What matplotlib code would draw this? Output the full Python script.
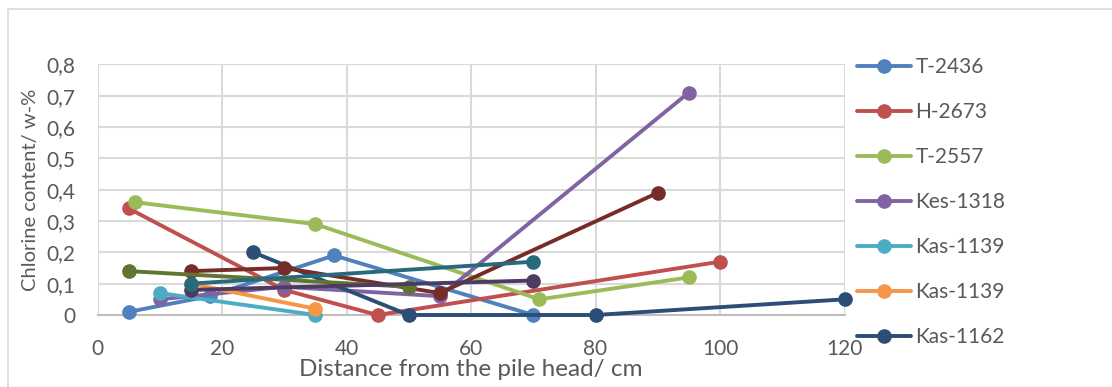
import matplotlib
matplotlib.use("Agg")
import matplotlib.pyplot as plt
from matplotlib.patches import Rectangle
from matplotlib.ticker import FuncFormatter, MultipleLocator

plt.rcParams['font.family'] = ['Lato', 'DejaVu Sans']

# Chlorine content profiles along each pile (distance in cm, content in w-%)
names = ["T-2436", "H-2673", "T-2557", "Kes-1318", "Kas-1139", "Kas-1139",
         "Kas-1162", "Kas-1170", "Kes-1325", "Kas-1148", "Kes-1330"]
distances = [
    [5, 18, 38, 70],
    [5, 30, 45, 100],
    [6, 35, 71, 95],
    [10, 30, 55, 95],
    [10, 35],
    [15, 35],
    [25, 50, 80, 120],
    [15, 30, 55, 90],
    [5, 50],
    [15, 70],
    [15, 70],
]
chlorine = [
    [0.01, 0.06, 0.19, 0.0],
    [0.34, 0.08, 0.0, 0.17],
    [0.36, 0.29, 0.05, 0.12],
    [0.05, 0.09, 0.06, 0.71],
    [0.07, 0.0],
    [0.10, 0.02],
    [0.20, 0.0, 0.0, 0.05],
    [0.14, 0.15, 0.07, 0.39],
    [0.14, 0.09],
    [0.08, 0.11],
    [0.10, 0.17],
]
colors = ["#4F81BD", "#C0504D", "#9BBB59", "#8064A2", "#4BACC6", "#F79646",
          "#2C4D75", "#772C2A", "#5F7530", "#4D3B62", "#276A7C"]

# only the first seven entries fit in the legend column
legend_count = 7

text_color = "#595959"
grid_color = "#D9D9D9"

fig = plt.figure(figsize=(11.12, 3.87), dpi=100)
ax = fig.add_axes([97.5 / 1112, 1 - 315 / 387, (844.5 - 97.5) / 1112, (315 - 64.3) / 387])

lines = []
for x, y, c, n in zip(distances, chlorine, colors, names):
    ln, = ax.plot(x, y, color=c, lw=2.8, marker="o", markersize=9.5,
                  markeredgecolor=c, markerfacecolor=c, label=n,
                  solid_capstyle="round", clip_on=False, zorder=3)
    lines.append(ln)

ax.set_xlim(0, 120)
ax.set_ylim(0, 0.8)
ax.xaxis.set_major_locator(MultipleLocator(20))
ax.yaxis.set_major_locator(MultipleLocator(0.1))
ax.yaxis.set_major_formatter(FuncFormatter(
    lambda v, p: "0" if abs(v) < 1e-9 else f"{v:.1f}".replace(".", ",")))

ax.grid(True, color=grid_color, lw=1.5, zorder=0)
ax.set_axisbelow(True)
for side in ["top", "right", "left"]:
    ax.spines[side].set_visible(False)
ax.spines["bottom"].set_color("#BFBFBF")
ax.spines["bottom"].set_linewidth(1.5)
ax.tick_params(length=0, labelsize=15, labelcolor=text_color)
ax.tick_params(axis="y", pad=16)
ax.tick_params(axis="x", pad=17)

ax.set_xlabel("Distance from the pile head/ cm", fontsize=17.5, color=text_color, labelpad=0)
ax.set_ylabel("Chlorine content/ w-%", fontsize=14.5, color=text_color, labelpad=5)

fig.legend(handles=lines[:legend_count], loc="upper left",
           bbox_to_anchor=(857 / 1112, 1 - 57 / 387),
           frameon=False, fontsize=15, labelcolor=text_color,
           handlelength=2.6, handletextpad=0.2, labelspacing=1.2,
           borderpad=0, borderaxespad=0)

# chart frame
fig.add_artist(Rectangle((8 / 1112, -0.5), 2.0, 1.5 - 9 / 387,
                         transform=fig.transFigure, fill=False,
                         edgecolor=grid_color, lw=1.2))

fig.savefig("out.png", dpi=100)
